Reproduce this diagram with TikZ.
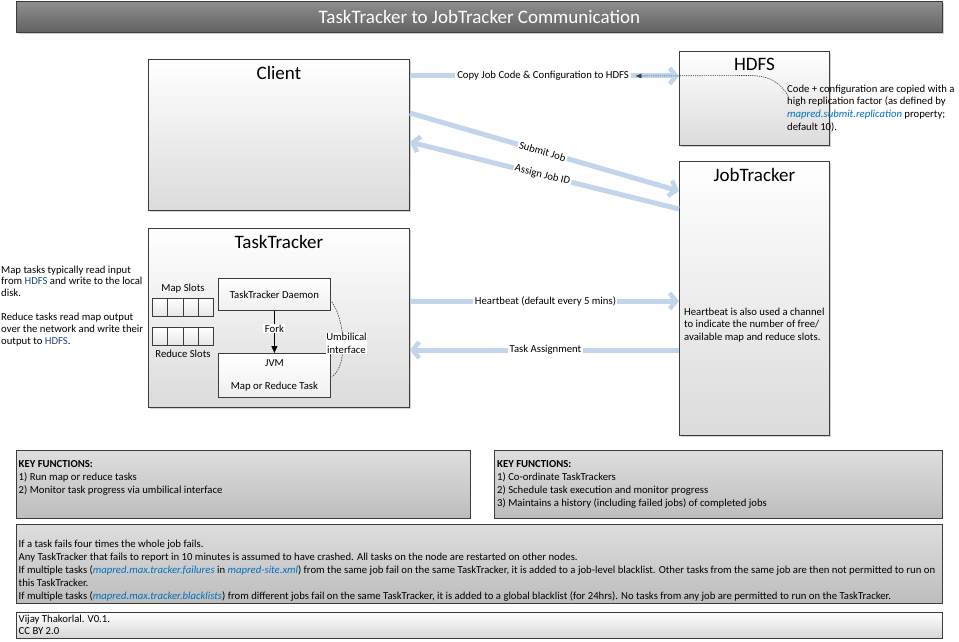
\documentclass[tikz,border=0pt]{standalone}
\usepackage{fontspec}
\setmainfont{Carlito}
\usetikzlibrary{arrows.meta,shadows,calc}
\definecolor{arrowblue}{RGB}{194,213,235}
\definecolor{linkblue}{RGB}{0,112,192}
\definecolor{hdfsblue}{RGB}{31,73,125}
\definecolor{edgegray}{RGB}{60,60,60}
\definecolor{bartop}{RGB}{142,142,142}
\definecolor{barbot}{RGB}{98,98,98}
\newcommand{\lnk}[1]{\textcolor{linkblue}{\textit{#1}}}
\begin{document}
\begin{tikzpicture}[x=1pt,y=-1pt]
\tikzset{
 txt/.style={font=\fontsize{10.7}{12.5}\selectfont, inner sep=0pt, align=left},
 boxtitle/.style={font=\fontsize{19}{21}\selectfont, inner sep=0pt},
 shad/.style={drop shadow={shadow xshift=1.5pt, shadow yshift=-1.5pt, fill=black!35}},
 mainbox/.style={draw=edgegray, line width=0.8pt, top color=white, bottom color=black!14, shad, anchor=north west, inner sep=0pt},
 innerbox/.style={draw=edgegray, line width=0.8pt, top color=white, bottom color=black!6, anchor=north west, inner sep=0pt},
 slot/.style={draw=edgegray, line width=0.7pt, top color=white, bottom color=black!10, minimum width=15.25pt, minimum height=18pt, anchor=north west, inner sep=0pt},
 graybox/.style={draw=edgegray, line width=0.9pt, top color=black!13, bottom color=black!26, anchor=north west, inner sep=0pt},
 lightbox/.style={draw=edgegray, line width=0.9pt, top color=white, bottom color=black!16, anchor=north west, inner sep=0pt},
 bluearrow/.style={draw=arrowblue, line width=5pt, -{Straight Barb[length=6.5pt,width=16pt,line width=4.5pt]}},
 lbl/.style={font=\fontsize{10.7}{12.5}\selectfont, fill=white, inner xsep=1.5pt, inner ysep=1pt},
}
\useasboundingbox[fill=white] (0,0) rectangle (959,642);

% title bar
\node[draw=edgegray, line width=0.8pt, top color=bartop, bottom color=barbot, shad, anchor=north west, minimum width=926pt, minimum height=31pt, inner sep=0pt] (titlebar) at (16,1) {};
\node[font=\fontsize{19}{21}\selectfont, text=white, inner sep=0pt] (titletext) at (titlebar.center) {TaskTracker to JobTracker Communication};

% main boxes
\node[mainbox, minimum width=261pt, minimum height=151pt] (client) at (148,59) {};
\node[boxtitle] (clienttitle) at ($(client.north)+(0,14)$) {Client};
\node[mainbox, minimum width=150pt, minimum height=94pt] (hdfs) at (679,51) {};
\node[boxtitle] (hdfstitle) at ($(hdfs.north)+(0,13)$) {HDFS};
\node[mainbox, minimum width=150pt, minimum height=274pt] (jobtracker) at (679,161) {};
\node[boxtitle] (jttitle) at ($(jobtracker.north)+(0,14)$) {JobTracker};
\node[mainbox, minimum width=261pt, minimum height=179pt] (tasktracker) at (148,228) {};
\node[boxtitle] (tttitle) at ($(tasktracker.north)+(0,14)$) {TaskTracker};

% inside TaskTracker
\node[innerbox, minimum width=112pt, minimum height=32pt] (daemon) at (218,278) {};
\node[txt] (daemontext) at (daemon.center) {TaskTracker Daemon};
\node[innerbox, minimum width=112pt, minimum height=44pt] (jvm) at (218,353) {};
\node[txt] (jvmtext) at ($(jvm.north)+(0,10)$) {JVM};
\node[txt] (jvmtask) at ($(jvm.north)+(0,34)$) {Map or Reduce Task};
\foreach \i in {0,...,3} {
  \node[slot] (ms\i) at ({152+15.25*\i},298) {};
  \node[slot] (rs\i) at ({152+15.25*\i},327) {};
}
\node[txt] (maplbl) at (183,289) {Map Slots};
\node[txt] (redlbl) at (183,354) {Reduce Slots};
\draw[line width=0.8pt, -{Triangle[length=7pt,width=6pt]}] (daemon.south) -- node[lbl, pos=0.42] (forklbl) {Fork} (jvm.north);
\coordinate (ustart) at ($(daemon.south east)+(1,-9)$);
\coordinate (uend) at ($(jvm.north east)+(1,24)$);
\draw[edgegray, line width=0.6pt, dash pattern=on 1.5pt off 1pt] (ustart) .. controls ($(ustart)+(13,18)$) and ($(uend)+(17,-12)$) .. (uend);
\node[lbl, align=center, inner xsep=0.5pt, inner ysep=0.5pt] (umblbl) at (346.5,343.5) {Umbilical\\interface};

% blue arrows
\draw[bluearrow] ($(client.north east)+(0,17)$) -- node[lbl, pos=0.495, inner xsep=2pt] (copylbl) {Copy Job Code \& Configuration to HDFS} ($(hdfs.north west)+(0,25)$);
\draw[bluearrow] ($(client.north east)+(0,54)$) -- node[lbl, pos=0.493, sloped] (submitlbl) {Submit Job} ($(jobtracker.north west)+(0,30)$);
\draw[bluearrow] ($(jobtracker.north west)+(0,48)$) -- node[lbl, pos=0.507, sloped] (assignlbl) {Assign Job ID} ($(client.north east)+(0,83)$);
\draw[bluearrow] ($(tasktracker.north east)+(0,73)$) -- node[lbl, pos=0.504] (hblbl) {Heartbeat (default every 5 mins)} ($(jobtracker.north west)+(0,140)$);
\draw[bluearrow] ($(jobtracker.north west)+(0,189)$) -- node[lbl, pos=0.496] (talbl) {Task Assignment} ($(tasktracker.north east)+(0,122)$);

% HDFS note and callout
\node[txt, anchor=north west, font=\fontsize{10.7}{12.8}\selectfont] (hdfsnote) at (787,84.5) {Code + configuration are copied with a\\high replication factor (as defined by\\\lnk{mapred.submit.replication} property;\\default 10).};
\coordinate (cstart) at ($(hdfsnote.north west)+(1,11)$);
\draw[edgegray, line width=0.6pt, dash pattern=on 1.2pt off 1pt, -{Latex[length=6pt,width=5pt]}, shorten >=2pt] (cstart) .. controls ($(cstart)+(-10,-16)$) and ($(cstart)+(-22,-20)$) .. ($(cstart)+(-40,-20)$) -- (copylbl.east);

% JobTracker note
\node[txt, anchor=north west, font=\fontsize{10.7}{12.6}\selectfont] (jtnote) at (684,307.5) {Heartbeat is also used a channel\\to indicate the number of free/\\available map and reduce slots.};

% left note
\node[txt, anchor=north west, font=\fontsize{10.7}{11.8}\selectfont] (leftnote) at (1,265.5) {Map tasks typically read input\\from \textcolor{hdfsblue}{HDFS} and write to the local\\disk.\\[12pt]Reduce tasks read map output\\over the network and write their\\output to \textcolor{hdfsblue}{HDFS}.};

% key functions
\node[graybox, minimum width=454pt, minimum height=68pt] (keyl) at (16,450) {};
\node[txt, anchor=north west, font=\fontsize{10.7}{13}\selectfont] (keyltext) at (18.5,460.5) {\textbf{KEY FUNCTIONS:}\\1) Run map or reduce tasks\\2) Monitor task progress via umbilical interface};
\node[graybox, minimum width=448pt, minimum height=68pt] (keyr) at (494,450) {};
\node[txt, anchor=north west, font=\fontsize{10.7}{13}\selectfont] (keyrtext) at (497,460.5) {\textbf{KEY FUNCTIONS:}\\1) Co-ordinate TaskTrackers\\2) Schedule task execution and monitor progress\\3) Maintains a history (including failed jobs) of completed jobs};

% failure notes
\node[graybox, minimum width=926pt, minimum height=79pt] (notes) at (16,524) {};
\node[txt, anchor=north west, font=\fontsize{10.7}{13}\selectfont] (notestext) at (18.5,539.5) {If a task fails four times the whole job fails.\\Any TaskTracker that fails to report in 10 minutes is assumed to have crashed. All tasks on the node are restarted on other nodes.\\If multiple tasks (\lnk{mapred.max.tracker.failures} in \lnk{mapred-site.xml}) from the same job fail on the same TaskTracker, it is added to a job-level blacklist. Other tasks from the same job are then not permitted to run on\\this TaskTracker.\\If multiple tasks (\lnk{mapred.max.tracker.blacklists}) from different jobs fail on the same TaskTracker, it is added to a global blacklist (for 24hrs). No tasks from any job are permitted to run on the TaskTracker.};

% author
\node[lightbox, minimum width=926pt, minimum height=26pt] (author) at (16,612) {};
\node[txt, anchor=north west, font=\fontsize{10.7}{12}\selectfont] (authortext) at (18.5,614.5) {Vijay Thakorlal. V0.1.\\CC BY 2.0};
\end{tikzpicture}
\end{document}
